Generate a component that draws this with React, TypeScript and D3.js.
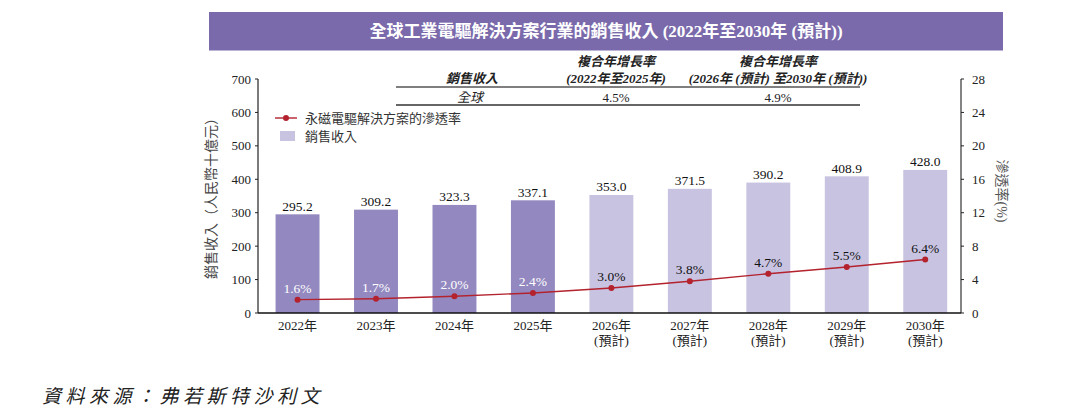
import React from 'react';
import * as d3 from 'd3';

// Revenue of the global industrial electric-drive solutions market, 2022–2030 (RMB bn)
const years = ['2022年', '2023年', '2024年', '2025年', '2026年', '2027年', '2028年', '2029年', '2030年'];
const isForecast = [false, false, false, false, true, true, true, true, true];
const revenue = [295.2, 309.2, 323.3, 337.1, 353.0, 371.5, 390.2, 408.9, 428.0];
// Penetration rate of permanent-magnet electric-drive solutions (%)
const penetration = [1.6, 1.7, 2.0, 2.4, 3.0, 3.8, 4.7, 5.5, 6.4];

const leftTicks = [0, 100, 200, 300, 400, 500, 600, 700];
const rightTicks = [0, 4, 8, 12, 16, 20, 24, 28];

const cagrHeaders = ['複合年增長率', '複合年增長率'];
const cagrPeriods = ['(2022年至2025年)', '(2026年 (預計) 至2030年 (預計))'];
const cagrValues = ['4.5%', '4.9%'];

const W = 1065;
const H = 417;
const plotLeft = 258;
const plotRight = 961;
const plotTop = 79;
const plotBottom = 313;

const FONT = "'Liberation Serif', 'Noto Sans CJK TC', serif";
const BAR_DARK = '#9389c0';
const BAR_LIGHT = '#c8c3e1';
const LINE_RED = '#b3222d';
const BANNER = '#7a6aab';

export default function App() {
  const x = d3
    .scaleBand<string>()
    .domain(years)
    .range([plotLeft, plotRight])
    .paddingInner(0.44)
    .paddingOuter(0.2)
    .align(0.56);
  const yLeft = d3.scaleLinear().domain([0, 700]).range([plotBottom, plotTop]);
  const yRight = d3.scaleLinear().domain([0, 28]).range([plotBottom, plotTop]);

  const cx = (i: number) => (x(years[i]) as number) + x.bandwidth() / 2;

  const line = d3
    .line<number>()
    .x((_, i) => cx(i))
    .y((d) => yRight(d));

  const cagrX = [616, 778];

  return (
    <svg
      width={W}
      height={H}
      viewBox={`0 0 ${W} ${H}`}
      style={{ position: 'absolute', left: 0, top: 0, background: '#fff' }}
      fontFamily={FONT}
    >
      {/* title banner */}
      <rect x={209} y={12} width={794} height={38.5} fill={BANNER} />
      <text x={606} y={37} textAnchor="middle" fill="#fff" fontSize={17} fontWeight="bold">
        全球工業電驅解決方案行業的銷售收入 (2022年至2030年 (預計))
      </text>

      {/* CAGR table */}
      <g fontSize={13} fill="#222">
        <text x={472} y={83} textAnchor="middle" fontWeight="bold" fontStyle="italic">
          銷售收入
        </text>
        {cagrHeaders.map((h, i) => (
          <g key={i}>
            <text x={cagrX[i]} y={66} textAnchor="middle" fontWeight="bold" fontStyle="italic">
              {h}
            </text>
            <text x={cagrX[i]} y={83} textAnchor="middle" fontWeight="bold" fontStyle="italic">
              {cagrPeriods[i]}
            </text>
            <text x={cagrX[i]} y={101.5} textAnchor="middle">
              {cagrValues[i]}
            </text>
          </g>
        ))}
        <text x={470} y={101.5} textAnchor="middle" fontStyle="italic">
          全球
        </text>
        <line x1={396} x2={860} y1={87} y2={87} stroke="#555" strokeWidth={1.3} />
        <line x1={396} x2={860} y1={105} y2={105} stroke="#333" strokeWidth={1.3} />
      </g>

      {/* bars */}
      {revenue.map((v, i) => (
        <rect
          key={years[i]}
          x={x(years[i])}
          y={yLeft(v)}
          width={x.bandwidth()}
          height={plotBottom - yLeft(v)}
          fill={isForecast[i] ? BAR_LIGHT : BAR_DARK}
        />
      ))}
      {revenue.map((v, i) => (
        <text key={'rv' + i} x={cx(i)} y={yLeft(v) - 3.5} textAnchor="middle" fontSize={13.5} fill="#111">
          {v.toFixed(1)}
        </text>
      ))}

      {/* penetration line */}
      <path d={line(penetration) || ''} fill="none" stroke={LINE_RED} strokeWidth={1.4} />
      {penetration.map((p, i) => (
        <g key={'p' + i}>
          <circle cx={cx(i)} cy={yRight(p)} r={3} fill={LINE_RED} />
          <text
            x={cx(i)}
            y={yRight(p) - 7}
            textAnchor="middle"
            fontSize={13.5}
            fill={isForecast[i] ? '#111' : '#fff'}
          >
            {p.toFixed(1)}%
          </text>
        </g>
      ))}

      {/* left axis */}
      <line x1={plotLeft} x2={plotLeft} y1={plotTop} y2={plotBottom} stroke="#222" strokeWidth={1.2} />
      {leftTicks.map((t) => (
        <g key={'l' + t}>
          <line x1={plotLeft - 3} x2={plotLeft} y1={yLeft(t)} y2={yLeft(t)} stroke="#222" strokeWidth={1} />
          <text x={plotLeft - 7} y={yLeft(t) + 4.5} textAnchor="end" fontSize={13} fill="#222">
            {t}
          </text>
        </g>
      ))}
      <text transform={`translate(216,195) rotate(-90)`} textAnchor="middle" fontSize={14} fill="#444">
        銷售收入（人民幣十億元）
      </text>

      {/* right axis */}
      <line x1={plotRight} x2={plotRight} y1={plotTop} y2={plotBottom} stroke="#777" strokeWidth={1.8} />
      {rightTicks.map((t) => (
        <g key={'r' + t}>
          <line x1={plotRight} x2={plotRight + 3} y1={yRight(t)} y2={yRight(t)} stroke="#222" strokeWidth={1} />
          <text x={plotRight + 11} y={yRight(t) + 4.5} textAnchor="start" fontSize={13} fill="#222">
            {t}
          </text>
        </g>
      ))}
      <text transform={`translate(997,191) rotate(90)`} textAnchor="middle" fontSize={14} fill="#555">
        滲透率(%)
      </text>

      {/* bottom axis */}
      <line x1={plotLeft} x2={plotRight} y1={plotBottom} y2={plotBottom} stroke="#111" strokeWidth={1.5} />
      {years.map((yr, i) => (
        <g key={'x' + yr} fontSize={13} fill="#222">
          <text x={cx(i)} y={330} textAnchor="middle">
            {yr}
          </text>
          {isForecast[i] && (
            <text x={cx(i)} y={345} textAnchor="middle">
              (預計)
            </text>
          )}
        </g>
      ))}

      {/* legend */}
      <line x1={275} x2={297} y1={118} y2={118} stroke={LINE_RED} strokeWidth={1.4} />
      <circle cx={286} cy={118} r={3} fill={LINE_RED} />
      <text x={305} y={122.5} fontSize={13} fill="#333">
        永磁電驅解決方案的滲透率
      </text>
      <rect x={280} y={131} width={15} height={10} fill={BAR_LIGHT} />
      <text x={305} y={141} fontSize={13} fill="#333">
        銷售收入
      </text>

      {/* source note */}
      <text x={42} y={403} fontSize={19} fontStyle="italic" letterSpacing={4.5} fill="#222">
        資料來源：弗若斯特沙利文
      </text>
    </svg>
  );
}
